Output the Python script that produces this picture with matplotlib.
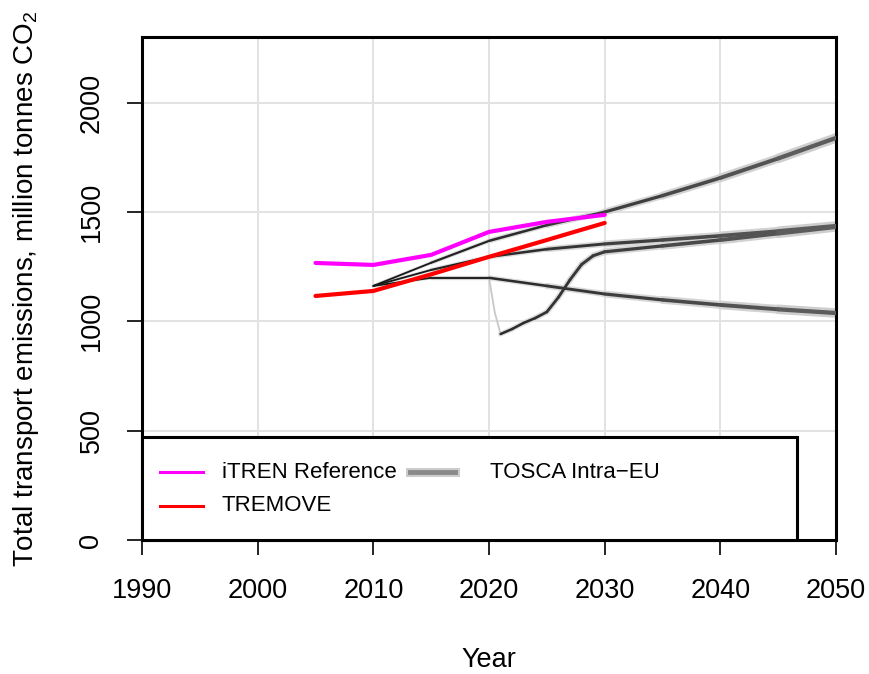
import numpy as np
import matplotlib
matplotlib.use("Agg")
import matplotlib.pyplot as plt
from matplotlib.collections import LineCollection
from matplotlib.patches import Rectangle

plt.rcParams['font.family'] = ['Liberation Sans', 'DejaVu Sans']
plt.rcParams['mathtext.fontset'] = 'custom'
plt.rcParams['mathtext.rm'] = 'Liberation Sans'

# iTREN reference and TREMOVE
itren_years = [2005, 2010, 2015, 2020, 2025, 2030]
itren_vals = [1267, 1258, 1304, 1409, 1455, 1487]
tremove_years = [2005, 2010, 2015, 2020, 2025, 2030]
tremove_vals = [1116, 1139, 1215, 1295, 1372, 1450]

# TOSCA intra-EU scenarios
tosca_years = [2010, 2015, 2020, 2025, 2030, 2035, 2040, 2045, 2050]
tosca_high = [1162, 1268, 1368, 1440, 1500, 1575, 1656, 1745, 1839]
tosca_mid = [1162, 1235, 1295, 1330, 1354, 1372, 1391, 1412, 1436]
tosca_low = [1162, 1199, 1199, 1162, 1125, 1098, 1075, 1055, 1038]
# scenario with a drop after 2020
dip_years = [2021, 2022, 2023, 2024, 2025, 2026, 2027, 2028, 2029, 2030,
             2035, 2040, 2045, 2050]
dip_vals = [942, 965, 993, 1015, 1043, 1110, 1190, 1260, 1300, 1318,
            1345, 1372, 1402, 1432]
drop_years = [2020, 2020.5, 2021]
drop_vals = [1199, 1040, 942]

x_ticks = [1990, 2000, 2010, 2020, 2030, 2040, 2050]
y_ticks = [0, 500, 1000, 1500, 2000]


def tosca_line(ax, xs, ys):
    # band gets wider and paler further out in time
    pts = np.column_stack([xs, ys])
    segs = [pts[i:i + 2] for i in range(len(pts) - 1)]
    mids = [(xs[i] + xs[i + 1]) / 2 for i in range(len(xs) - 1)]
    t = np.clip((np.array(mids) - 2010) / 40.0, 0, 1)
    widths = 1.2 + 2.0 * t
    halo = LineCollection(segs, linewidths=widths + 1.0 + 3.0 * t,
                          colors=[(g, g, g) for g in 0.9 - 0.1 * t],
                          capstyle='round', zorder=2)
    core = LineCollection(segs, linewidths=widths,
                          colors=[(g, g, g) for g in 0.08 + 0.3 * t],
                          capstyle='round', zorder=3)
    ax.add_collection(halo)
    ax.add_collection(core)


fig = plt.figure(figsize=(8.7, 6.74), dpi=100)
ax = fig.add_axes([0.1632, 0.1988, 0.7978, 0.7462])

ax.set_xlim(1990, 2050)
ax.set_ylim(0, 2300)
ax.set_xticks(x_ticks)
ax.set_yticks(y_ticks)
ax.grid(True, color='#e2e2e2', linewidth=1.4, zorder=0)
ax.set_axisbelow(True)

for vals in (tosca_high, tosca_mid, tosca_low):
    tosca_line(ax, tosca_years, vals)
tosca_line(ax, dip_years, dip_vals)
ax.plot(drop_years, drop_vals, color='#c8c8c8', lw=1.3, zorder=2)

ax.plot(itren_years, itren_vals, color='#ff00ff', lw=3.0, zorder=4,
        solid_capstyle='round')
ax.plot(tremove_years, tremove_vals, color='#ff0000', lw=3.0, zorder=4,
        solid_capstyle='round')

for s in ax.spines.values():
    s.set_linewidth(2.2)
ax.tick_params(axis='both', direction='out', length=11, width=1.2,
               labelsize=19.5, pad=16)
ax.tick_params(axis='y', labelrotation=90)
for lab in ax.get_yticklabels():
    lab.set_va('center')
    lab.set_ha('right')

ax.set_xlabel('Year', fontsize=19.5, labelpad=31)
ax.set_ylabel('Total transport emissions, million tonnes CO$_2$',
              fontsize=20, labelpad=27)

# legend box drawn by hand, R style
tr = ax.transAxes
ax.add_patch(Rectangle((0, 0), 0.944, 0.205, transform=tr, facecolor='white',
                       edgecolor='black', lw=2.2, zorder=6, clip_on=False))
ax.plot([0.026, 0.088], [0.135, 0.135], transform=tr, color='#ff00ff',
        lw=2.2, zorder=7)
ax.plot([0.026, 0.088], [0.068, 0.068], transform=tr, color='#ff0000',
        lw=2.2, zorder=7)
ax.plot([0.386, 0.451], [0.135, 0.135], transform=tr, color='#cccccc',
        lw=6.5, zorder=7)
ax.plot([0.386, 0.451], [0.135, 0.135], transform=tr, color='#8a8a8a',
        lw=3.5, zorder=7)
ax.text(0.115, 0.135, 'iTREN Reference', transform=tr, fontsize=16,
        va='center', ha='left', zorder=8)
ax.text(0.115, 0.068, 'TREMOVE', transform=tr, fontsize=16,
        va='center', ha='left', zorder=8)
ax.text(0.501, 0.135, 'TOSCA Intra\u2212EU', transform=tr, fontsize=16,
        va='center', ha='left', zorder=8)

fig.savefig('out.png', dpi=100)
